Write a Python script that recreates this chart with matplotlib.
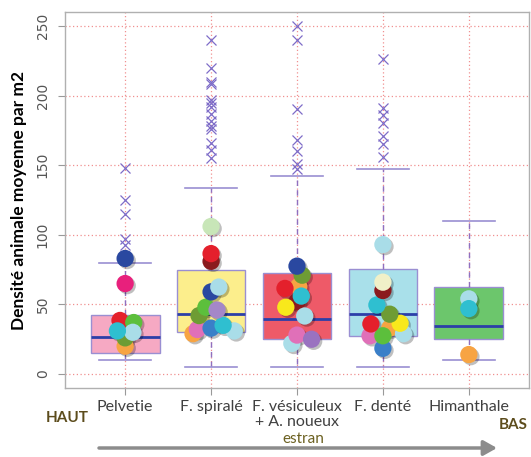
import matplotlib
matplotlib.use("Agg")
import matplotlib.pyplot as plt
import matplotlib.patheffects as pe

# Box statistics
categories = ["Pelvetie", "F. spiralé", "F. vésiculeux\n+ A. noueux", "F. denté", "Himanthale"]
q1 = [15, 30, 25, 27, 25]
med = [26.5, 43, 39.5, 43, 34.5]
q3 = [42.5, 74.5, 72.5, 75.5, 62.5]
whislo = [10, 5, 5, 5, 10]
whishi = [80, 133.5, 142.5, 147, 110]
fliers = [
    [148, 125, 115, 97, 93],
    [240, 220, 210, 208, 197, 195, 192, 187, 182, 178, 176, 166, 161, 155],
    [250, 240, 190, 168, 160, 151, 147],
    [226, 191, 186, 180, 171, 165, 156],
    [],
]
box_colors = ["#f6a9c3", "#fcee8c", "#ee5a68", "#a9e0ea", "#6cc66c"]

# Individual site means (coloured dots)
pt_vals = [
    [20, 26, 38.5, 37, 30, 31, 65, 83],
    [29, 32, 33, 31, 35, 42, 48, 46, 59, 62.5, 81, 86.5, 106],
    [63, 52, 22, 28, 25, 61.5, 48, 41.7, 56, 71, 77.5],
    [33, 18.5, 27.5, 27.5, 29, 36, 36.5, 43, 49.6, 60, 66, 93],
    [14, 54, 47],
]
pt_jitter = [
    [0, 0, -0.06, 0.1, 0.09, -0.09, 0, 0],
    [-0.21, -0.16, 0, 0.27, 0.14, -0.14, -0.06, 0.07, 0, 0.09, 0, 0, 0],
    [0.02, 0, -0.06, 0, 0.17, -0.14, -0.13, 0.09, 0.05, 0.06, 0],
    [0.08, 0, -0.15, 0, 0.24, -0.14, 0.2, 0.08, -0.07, 0, 0, 0],
    [0, 0, 0],
]
pt_colors = [
    ["#f7a443", "#6e9c34", "#e4202c", "#5cbf3c", "#a9dde8", "#2fbfd0", "#e8207c", "#2a48a0"],
    ["#f7a443", "#e070b8", "#3a7fc8", "#a9dde8", "#2fbfd0", "#6e9c34", "#5cbf3c", "#a487c8",
     "#2a48a0", "#a9dde8", "#8b1a1e", "#e4202c", "#c8e6b8"],
    ["#f7a443", "#8b1a1e", "#a9dde8", "#e070b8", "#9a72c0", "#e4202c", "#f8e81c", "#a9dde8",
     "#2fbfd0", "#6e9c34", "#2a48a0"],
    ["#f7a443", "#3a7fc8", "#e070b8", "#5cbf3c", "#a9dde8", "#e4202c", "#f8e81c", "#6e9c34",
     "#2fbfd0", "#8b1a1e", "#f0f0c8", "#a9dde8"],
    ["#f7a443", "#a9dde8", "#2fbfd0"],
]

fig = plt.figure(figsize=(5.31, 4.57), dpi=100)
ax = fig.add_axes([0.1224, 0.151, 0.8738, 0.8227])

positions = list(range(1, len(categories) + 1))
stats = []
for i in range(len(categories)):
    stats.append(dict(med=med[i], q1=q1[i], q3=q3[i], whislo=whislo[i],
                      whishi=whishi[i], fliers=fliers[i]))

edge = "#9a8fd2"
bp = ax.bxp(stats, positions=positions, widths=0.8, patch_artist=True,
            boxprops=dict(edgecolor=edge, linewidth=1.0),
            medianprops=dict(color="#2c3fa8", linewidth=2.0),
            whiskerprops=dict(color="#8f70c0", linestyle=(0, (4, 3)), linewidth=1.0),
            capprops=dict(color=edge, linewidth=1.2),
            capwidths=0.6,
            flierprops=dict(marker="x", markeredgecolor="#7e6cc8", markersize=7,
                            markeredgewidth=0.9, linestyle="none"),
            zorder=2)
for patch, c in zip(bp["boxes"], box_colors):
    patch.set_facecolor(c)

for i in range(len(categories)):
    xs = [positions[i] + j for j in pt_jitter[i]]
    ax.scatter(xs, pt_vals[i], s=155, c=pt_colors[i], edgecolors="none", zorder=4,
               path_effects=[pe.SimplePatchShadow(offset=(1.5, -1.5), shadow_rgbFace="k",
                                                  alpha=0.25),
                             pe.Normal()])

ax.set_xlim(0.3, 5.7)
ax.set_ylim(-10, 260)
ax.set_yticks([0, 50, 100, 150, 200, 250])
ax.set_xticks(positions)
ax.set_xticklabels(categories, fontsize=11.5, color="#404040", family="Lato",
                   linespacing=1.05)
for lab in ax.get_yticklabels():
    lab.set_rotation(90)
    lab.set_va("center")
    lab.set_color("#555555")
    lab.set_fontsize(10)
ax.tick_params(axis="both", colors="#999999", length=5, width=0.8)
ax.tick_params(axis="x", labelcolor="#404040", pad=4)
ax.tick_params(axis="y", labelcolor="#555555", pad=6)

ax.grid(True, color="#f09090", linestyle=(0, (1, 2)), linewidth=0.9, zorder=0)
ax.set_axisbelow(True)
for s in ax.spines.values():
    s.set_color("#b0b0b0")
    s.set_linewidth(1.0)

ax.set_ylabel("Densité animale moyenne par m2", fontsize=12.5, fontweight="bold",
              family="Lato", labelpad=6)

fig.text(67 / 531, 1 - 418 / 457, "HAUT", fontsize=11, fontweight="bold", color="#5c4c1c",
         family="Lato", ha="center", va="center")
fig.text(513 / 531, 1 - 425 / 457, "BAS", fontsize=11, fontweight="bold", color="#5c4c1c",
         family="Lato", ha="center", va="center")
fig.text(303 / 531, 1 - 439 / 457, "estran", fontsize=11, color="#6b6020",
         family="Lato", ha="center", va="center")
ax.annotate("", xy=(497 / 531, 1 - 448 / 457), xytext=(99 / 531, 1 - 448 / 457),
            xycoords="figure fraction", textcoords="figure fraction",
            arrowprops=dict(arrowstyle="-|>,head_length=0.8,head_width=0.45",
                            color="#8c8c8c", lw=2.5, shrinkA=0, shrinkB=0))

fig.savefig("out.png", dpi=100)
